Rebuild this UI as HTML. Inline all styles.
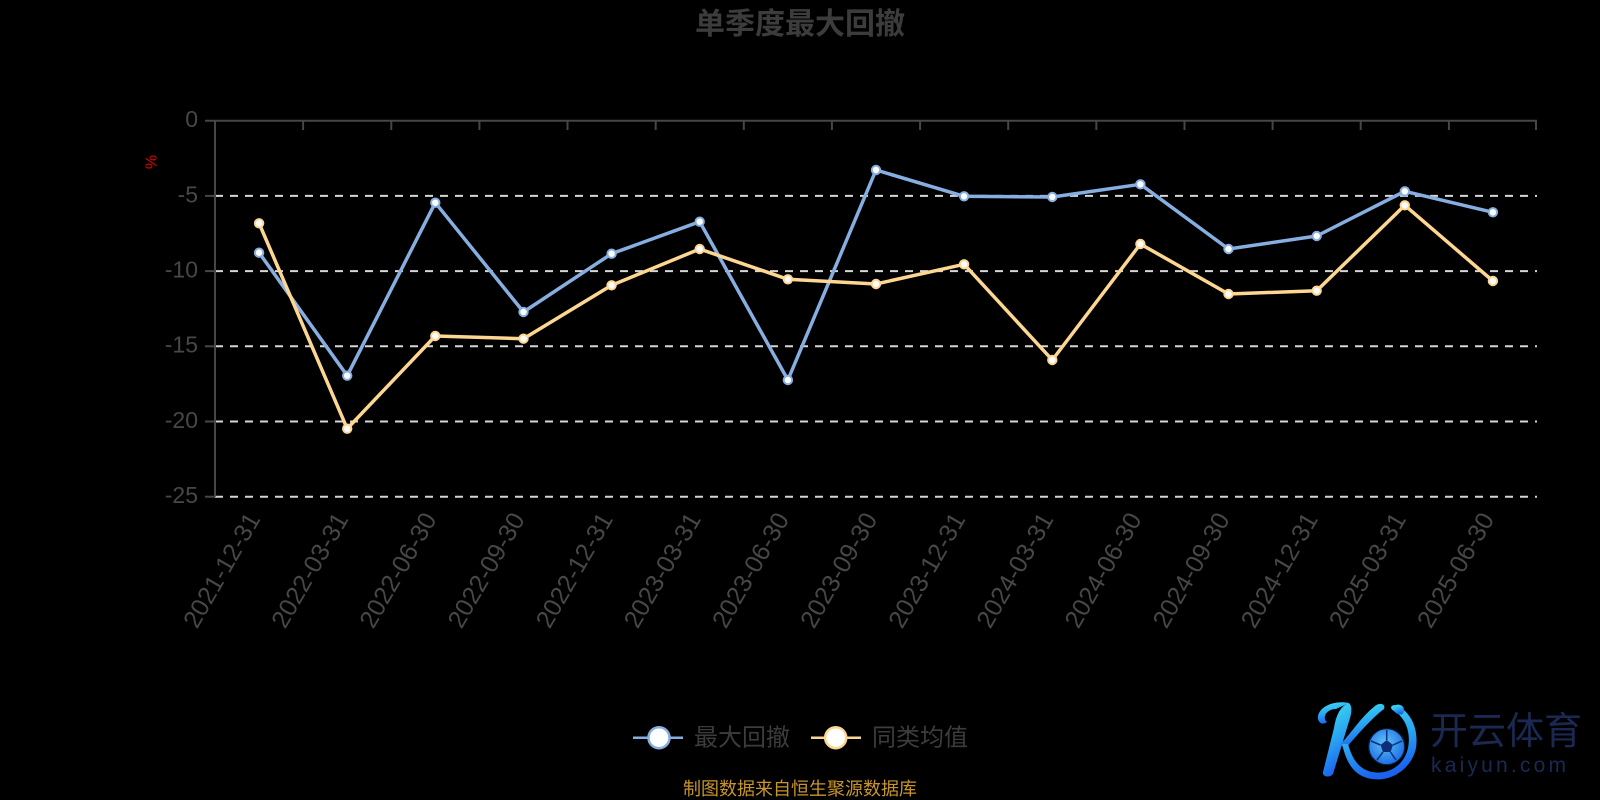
<!DOCTYPE html>
<html>
<head>
<meta charset="utf-8">
<style>
  html, body { margin: 0; padding: 0; background: #000; }
  body { width: 1600px; height: 800px; overflow: hidden; }
  svg { display: block; }
  .ff { font-family: "Liberation Sans", "Noto Sans CJK SC", sans-serif; }
</style>
</head>
<body>
<svg width="1600" height="800" viewBox="0 0 1600 800" xmlns="http://www.w3.org/2000/svg" class="ff">
  <defs>
    <linearGradient id="kg" x1="0" y1="0" x2="0.3" y2="1">
      <stop offset="0" stop-color="#41e6f2"/>
      <stop offset="0.55" stop-color="#2aa6f2"/>
      <stop offset="1" stop-color="#1a63ee"/>
    </linearGradient>
    <radialGradient id="ballg" cx="0.45" cy="0.4" r="0.6">
      <stop offset="0" stop-color="#5fc4f5"/>
      <stop offset="1" stop-color="#1c6fe6"/>
    </radialGradient>
  </defs>

  <rect width="1600" height="800" fill="#000"/>

  <!-- Title -->
  <text x="800" y="34" text-anchor="middle" font-size="30" font-weight="bold" fill="#3c3c3c" font-family="'Liberation Sans','Noto Sans CJK SC',sans-serif">单季度最大回撤</text>

  <!-- Grid dashed lines -->
  <g stroke="#d6d6d6" stroke-width="2" stroke-dasharray="8 7">
    <line x1="215" y1="195.9" x2="1537" y2="195.9"/>
    <line x1="215" y1="271.1" x2="1537" y2="271.1"/>
    <line x1="215" y1="346.3" x2="1537" y2="346.3"/>
    <line x1="215" y1="421.5" x2="1537" y2="421.5"/>
    <line x1="215" y1="496.7" x2="1537" y2="496.7"/>
  </g>

  <!-- Axes -->
  <g stroke="#464646" stroke-width="2" fill="none">
    <line x1="215" y1="120.7" x2="215" y2="496.7"/>
    <line x1="205" y1="120.7" x2="1537" y2="120.7"/>
    <line x1="205" y1="195.9" x2="215" y2="195.9"/>
    <line x1="205" y1="271.1" x2="215" y2="271.1"/>
    <line x1="205" y1="346.3" x2="215" y2="346.3"/>
    <line x1="205" y1="421.5" x2="215" y2="421.5"/>
    <line x1="205" y1="496.7" x2="215" y2="496.7"/>
    <line x1="303.1" y1="120.7" x2="303.1" y2="130"/>
    <line x1="391.3" y1="120.7" x2="391.3" y2="130"/>
    <line x1="479.4" y1="120.7" x2="479.4" y2="130"/>
    <line x1="567.5" y1="120.7" x2="567.5" y2="130"/>
    <line x1="655.7" y1="120.7" x2="655.7" y2="130"/>
    <line x1="743.8" y1="120.7" x2="743.8" y2="130"/>
    <line x1="831.9" y1="120.7" x2="831.9" y2="130"/>
    <line x1="920.1" y1="120.7" x2="920.1" y2="130"/>
    <line x1="1008.2" y1="120.7" x2="1008.2" y2="130"/>
    <line x1="1096.3" y1="120.7" x2="1096.3" y2="130"/>
    <line x1="1184.5" y1="120.7" x2="1184.5" y2="130"/>
    <line x1="1272.6" y1="120.7" x2="1272.6" y2="130"/>
    <line x1="1360.7" y1="120.7" x2="1360.7" y2="130"/>
    <line x1="1448.9" y1="120.7" x2="1448.9" y2="130"/>
    <line x1="1536" y1="120.7" x2="1536" y2="130"/>
  </g>

  <!-- Y labels -->
  <g font-size="23" fill="#474747" text-anchor="end" dominant-baseline="central">
    <text x="198" y="119">0</text>
    <text x="198" y="194.5">-5</text>
    <text x="198" y="269.5">-10</text>
    <text x="198" y="344.5">-15</text>
    <text x="198" y="420">-20</text>
    <text x="198" y="495">-25</text>
  </g>
  <text x="0" y="0" font-size="16" fill="#e00000" text-anchor="middle" dominant-baseline="central" transform="translate(152,162) rotate(-90)">%</text>

  <!-- X labels -->
  <g font-size="25" fill="#474747" text-anchor="end" dominant-baseline="central">
    <text transform="translate(254,515) rotate(-60)">2021-12-31</text>
    <text transform="translate(342.2,515) rotate(-60)">2022-03-31</text>
    <text transform="translate(430.3,515) rotate(-60)">2022-06-30</text>
    <text transform="translate(518.5,515) rotate(-60)">2022-09-30</text>
    <text transform="translate(606.6,515) rotate(-60)">2022-12-31</text>
    <text transform="translate(694.7,515) rotate(-60)">2023-03-31</text>
    <text transform="translate(782.9,515) rotate(-60)">2023-06-30</text>
    <text transform="translate(871,515) rotate(-60)">2023-09-30</text>
    <text transform="translate(959.1,515) rotate(-60)">2023-12-31</text>
    <text transform="translate(1047.3,515) rotate(-60)">2024-03-31</text>
    <text transform="translate(1135.4,515) rotate(-60)">2024-06-30</text>
    <text transform="translate(1223.5,515) rotate(-60)">2024-09-30</text>
    <text transform="translate(1311.7,515) rotate(-60)">2024-12-31</text>
    <text transform="translate(1399.8,515) rotate(-60)">2025-03-31</text>
    <text transform="translate(1487.9,515) rotate(-60)">2025-06-30</text>
  </g>

  <!-- Blue series -->
  <polyline fill="none" stroke="#86aee0" stroke-width="3.5" stroke-linejoin="round"
    points="259.1,252.7 347.2,375.7 435.3,202.7 523.5,312 611.6,253.7 699.7,221.7 787.9,380 876,170 964.1,196.3 1052.3,197 1140.4,184.3 1228.5,249 1316.7,236 1404.8,191.3 1492.9,212.3"/>
  <!-- Yellow series -->
  <polyline fill="none" stroke="#fdd692" stroke-width="3.5" stroke-linejoin="round"
    points="259.1,223.3 347.2,428.7 435.3,336 523.5,338.7 611.6,285.3 699.7,249 787.9,279.3 876,284 964.1,264.3 1052.3,360 1140.4,244 1228.5,294 1316.7,290.7 1404.8,205.3 1492.9,281"/>

  <g fill="#fff" stroke="#86aee0" stroke-width="2">
    <circle cx="259.1" cy="252.7" r="4.2"/>
    <circle cx="347.2" cy="375.7" r="4.2"/>
    <circle cx="435.3" cy="202.7" r="4.2"/>
    <circle cx="523.5" cy="312" r="4.2"/>
    <circle cx="611.6" cy="253.7" r="4.2"/>
    <circle cx="699.7" cy="221.7" r="4.2"/>
    <circle cx="787.9" cy="380" r="4.2"/>
    <circle cx="876" cy="170" r="4.2"/>
    <circle cx="964.1" cy="196.3" r="4.2"/>
    <circle cx="1052.3" cy="197" r="4.2"/>
    <circle cx="1140.4" cy="184.3" r="4.2"/>
    <circle cx="1228.5" cy="249" r="4.2"/>
    <circle cx="1316.7" cy="236" r="4.2"/>
    <circle cx="1404.8" cy="191.3" r="4.2"/>
    <circle cx="1492.9" cy="212.3" r="4.2"/>
  </g>
  <g fill="#fff" stroke="#fdd692" stroke-width="2">
    <circle cx="259.1" cy="223.3" r="4.2"/>
    <circle cx="347.2" cy="428.7" r="4.2"/>
    <circle cx="435.3" cy="336" r="4.2"/>
    <circle cx="523.5" cy="338.7" r="4.2"/>
    <circle cx="611.6" cy="285.3" r="4.2"/>
    <circle cx="699.7" cy="249" r="4.2"/>
    <circle cx="787.9" cy="279.3" r="4.2"/>
    <circle cx="876" cy="284" r="4.2"/>
    <circle cx="964.1" cy="264.3" r="4.2"/>
    <circle cx="1052.3" cy="360" r="4.2"/>
    <circle cx="1140.4" cy="244" r="4.2"/>
    <circle cx="1228.5" cy="294" r="4.2"/>
    <circle cx="1316.7" cy="290.7" r="4.2"/>
    <circle cx="1404.8" cy="205.3" r="4.2"/>
    <circle cx="1492.9" cy="281" r="4.2"/>
  </g>

  <!-- Legend -->
  <line x1="633" y1="737.7" x2="683" y2="737.7" stroke="#86aee0" stroke-width="2.5"/>
  <circle cx="659" cy="737.7" r="10.5" fill="#fff" stroke="#86aee0" stroke-width="2.5"/>
  <text x="694" y="738" font-size="24" fill="#3c3c3c" dominant-baseline="central">最大回撤</text>
  <line x1="811" y1="737.7" x2="861" y2="737.7" stroke="#fdd692" stroke-width="2.5"/>
  <circle cx="835.7" cy="737.7" r="10.5" fill="#fff" stroke="#fdd692" stroke-width="2.5"/>
  <text x="872" y="738" font-size="24" fill="#3c3c3c" dominant-baseline="central">同类均值</text>

  <!-- Source -->
  <text x="800" y="789" font-size="18" fill="#c8952a" text-anchor="middle" dominant-baseline="central">制图数据来自恒生聚源数据库</text>

  <!-- Logo -->
  <g>
    <path d="M1349,703 C1340,706 1336,716 1334,728 L1323,772 C1322,777 1330,778 1333,774 L1347,728 C1350,718 1354,708 1349,703 Z" fill="url(#kg)"/>
    <path d="M1349,703 C1335,700 1320,706 1318,716 C1317,722 1322,726 1327,722 C1322,718 1326,709 1336,709 Z" fill="url(#kg)"/>
    <path d="M1340,745 C1352,732 1362,716 1375,706 C1380,702 1386,704 1384,709 C1372,718 1358,734 1346,748 Z" fill="url(#kg)"/>
    <path d="M1342,744 C1346,760 1352,776 1372,779 C1392,782 1412,768 1416,748 C1419,728 1410,712 1398,706 C1392,703 1388,708 1394,711 C1406,718 1411,733 1408,748 C1404,766 1388,775 1372,772 C1358,769 1352,758 1348,744 Z" fill="url(#kg)"/>
    <path d="M1394,711 C1398,716 1404,716 1404,710 C1404,705 1398,703 1394,706 Z" fill="url(#kg)"/>
    <circle cx="1386.7" cy="746.7" r="18" fill="url(#ballg)" stroke="#0d1a3a" stroke-width="1.2"/>
    <polygon points="1386.7,740 1393,745 1390.5,752 1383,752 1380.5,745" fill="#0d2f7a"/>
    <path d="M1386.7,740 L1386.7,730 M1393,745 L1402,741 M1390.5,752 L1396,760 M1383,752 L1377,760 M1380.5,745 L1371,741" stroke="#0d2f7a" stroke-width="1.5"/>
    <text x="1430" y="744" font-size="38" fill="#1b2952" font-family="'Noto Sans CJK SC',sans-serif">开云体育</text>
    <text x="1431" y="772" font-size="21" fill="#1b2952" letter-spacing="3.2">kaiyun.com</text>
  </g>
</svg>
</body>
</html>
